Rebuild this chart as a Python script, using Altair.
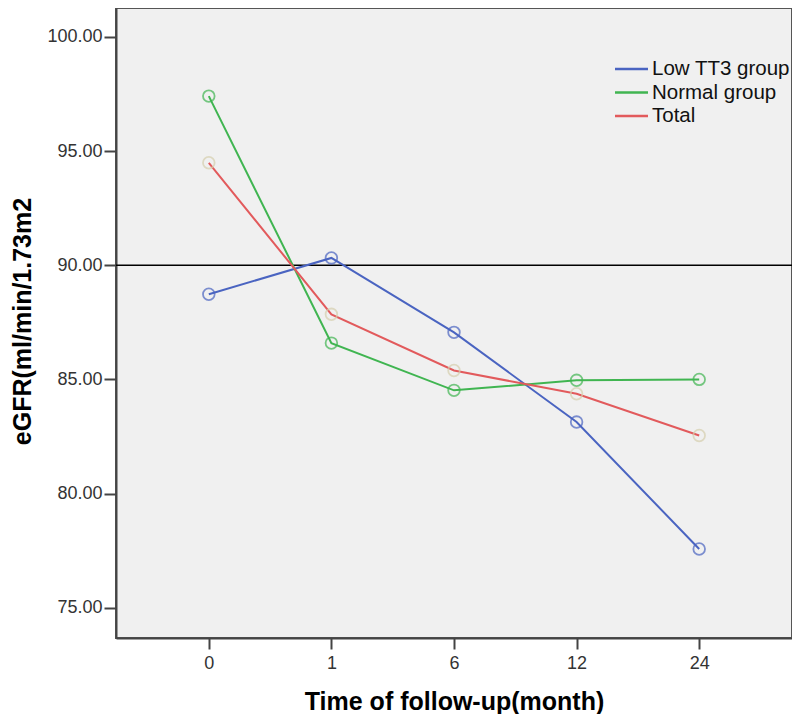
import altair as alt
import pandas as pd

months = ["0", "1", "6", "12", "24"]
groups = ["Low TT3 group", "Normal group", "Total"]
low_tt3 = [88.73, 90.32, 87.06, 83.13, 77.57]
normal = [97.41, 86.59, 84.52, 84.96, 85.00]
total = [94.49, 87.85, 85.39, 84.37, 82.54]
y_ticks = [75, 80, 85, 90, 95, 100]
ref_value = [90]

line_colors = ["#4a64c1", "#40b551", "#e25a5c"]
marker_colors = ["#4a64c1", "#40b551", "#d6cfae"]

rows = []
for g, vals in zip(groups, [low_tt3, normal, total]):
    for m, v in zip(months, vals):
        rows.append({"group": g, "month": m, "value": v})
df = pd.DataFrame(rows)
legend_df = pd.DataFrame({"group": groups})

FONT = "Liberation Sans"

x_enc = alt.X(
    "month:O",
    sort=months,
    scale=alt.Scale(type="point", padding=0.757),
    axis=alt.Axis(
        title="Time of follow-up(month)",
        labelAngle=0,
        tickSize=11,
        labelPadding=5,
        titleY=71,
        titleBaseline="alphabetic",
    ),
)
y_enc = alt.Y(
    "value:Q",
    scale=alt.Scale(domain=[73.67, 101.27], nice=False, zero=False),
    axis=alt.Axis(
        title="eGFR(ml/min/1.73m2",
        values=y_ticks,
        format=".2f",
        tickSize=12,
        labelPadding=2,
        titleX=-94,
        titleY=313,
        titleBaseline="middle",
    ),
)

base = alt.Chart(df)

rule = alt.Chart(pd.DataFrame({"v": ref_value})).mark_rule(
    color="#000000", strokeWidth=1.5
).encode(y="v:Q")

line_color = alt.Color(
    "group:N",
    scale=alt.Scale(domain=groups, range=line_colors),
    legend=None,
)

lines = base.mark_line(strokeWidth=2).encode(x=x_enc, y=y_enc, color=line_color)

points = base.mark_point(filled=False, size=135, strokeWidth=1.8).encode(
    x=x_enc,
    y=y_enc,
    color=alt.Color(
        "group:N",
        scale=alt.Scale(domain=groups, range=marker_colors),
        legend=None,
    ),
)

main = alt.layer(rule, lines, points).resolve_scale(color="independent")

# legend drawn as a small layer on its own point scale
leg_y = alt.Y(
    "group:N",
    sort=groups,
    scale=alt.Scale(type="point", range=[61, 108], padding=0),
    axis=None,
)
leg_rules = alt.Chart(legend_df).mark_rule(strokeWidth=2.5).encode(
    x=alt.value(499),
    x2=alt.value(532),
    y=leg_y,
    color=line_color,
)
leg_text = alt.Chart(legend_df).mark_text(
    align="left", baseline="middle", fontSize=20.5, font=FONT, color="#111111"
).encode(
    x=alt.value(536),
    y=leg_y,
    text="group:N",
)
legend_layer = alt.layer(leg_rules, leg_text)

chart = (
    alt.layer(main, legend_layer)
    .resolve_scale(y="independent", color="independent")
    .properties(
        width=676,
        height=630,
        autosize=alt.AutoSizeParams(type="none"),
        padding={"left": 108, "top": 0, "right": 0, "bottom": 76},
        background="#ffffff",
    )
    .configure_view(fill="#f0f0f0", stroke="#555555", strokeWidth=2)
    .configure_axis(
        grid=False,
        domainColor="#444444",
        domainWidth=2,
        tickColor="#444444",
        tickWidth=2,
        labelColor="#333333",
        labelFont=FONT,
        labelFontSize=18,
        titleFont=FONT,
        titleFontSize=25,
        titleFontWeight="bold",
        titleColor="#000000",
    )
)

chart.save("out.html", embed_options={"renderer": "svg", "actions": False})
